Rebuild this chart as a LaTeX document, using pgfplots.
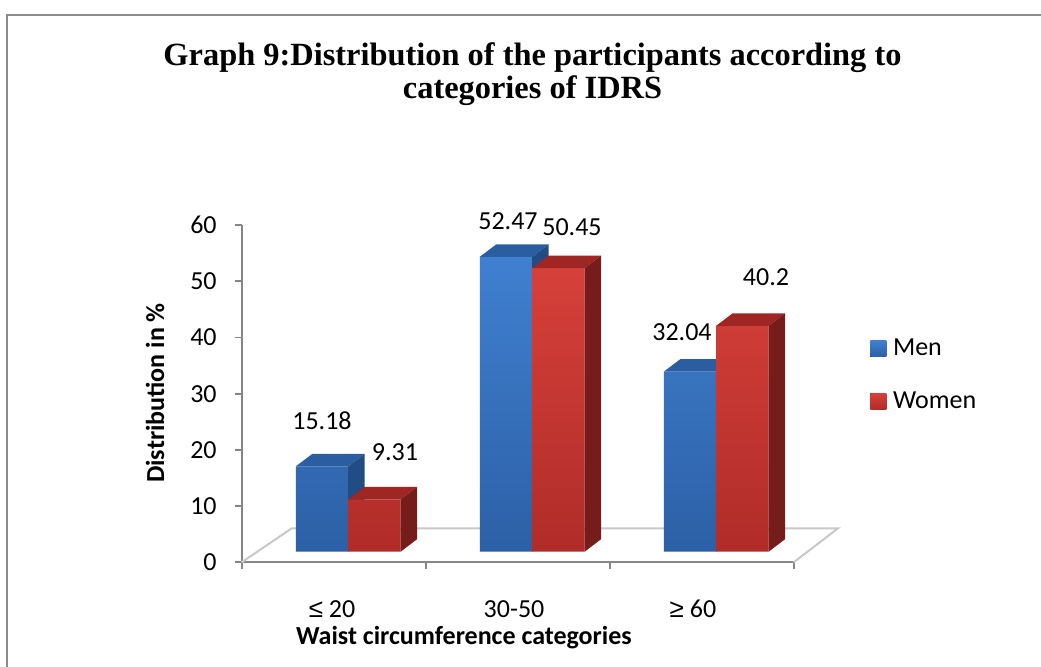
\documentclass[border=0pt]{standalone}
\usepackage{pgfplots}
\pgfplotsset{compat=1.18}
\usepackage{pgfplotstable}
\usepackage{fontspec}
\setmainfont{Carlito}
\newfontfamily\titlefont{Liberation Serif}
\newfontfamily\symfont{Liberation Sans}

\definecolor{framegray}{RGB}{140,140,140}
\definecolor{axisgray}{RGB}{134,134,134}
\definecolor{floorgray}{RGB}{200,200,200}
\definecolor{menhi}{RGB}{64,128,208}
\definecolor{menlo}{RGB}{44,96,166}
\definecolor{mentop}{RGB}{42,94,160}
\definecolor{menside}{RGB}{33,76,132}
\definecolor{womenhi}{RGB}{214,64,58}
\definecolor{womenlo}{RGB}{176,44,40}
\definecolor{womentop}{RGB}{160,38,36}
\definecolor{womenside}{RGB}{118,28,26}

% value, and where its label sits relative to the group centre / bar top (pt)
\pgfplotstableread{
x y dx dy
0 15.18 -13.1 22.7
1 52.47 -12.1 17.6
2 32.04 -17.1 19.8
}\mendata
\pgfplotstableread{
x y dx dy
0 9.31 23.4 23.7
1 50.45 19.9 20.3
2 40.2 24.9 24.5
}\womendata

\newcommand\txt{\fontsize{13}{15.6}\selectfont}

\begin{document}
\begin{tikzpicture}
\fill[white] (0,0) rectangle (520.5pt,333pt);
\useasboundingbox (0,0) rectangle (520.5pt,333pt);
\draw[framegray, line width=1pt] (3.5pt,-2pt) -- (3.5pt,325.5pt) -- (523pt,325.5pt);

\node[anchor=base, font=\titlefont\bfseries\fontsize{16.2}{19}\selectfont]
  at (266.25pt,300.35pt) {Graph 9:Distribution of the participants according to};
\node[anchor=base, font=\titlefont\bfseries\fontsize{16.2}{19}\selectfont]
  at (266.25pt,283.65pt) {categories of IDRS};

% back wall: value axis, category axis and floor
\begin{axis}[
  at={(120.85pt,51.85pt)}, anchor=south west,
  width=276pt, height=168.6pt, scale only axis,
  xmin=-0.5, xmax=2.5, ymin=0, ymax=60,
  clip=false,
  axis x line=bottom, axis y line=left,
  axis line style={axisgray, line width=0.9pt, -},
  tick align=outside,
  ytick={0,10,...,60},
  xtick={-0.0092,0.98,1.9527},
  xticklabels={{\symfont ≤}~20, 30-50, {\symfont ≥}~60},
  minor xtick={-0.5,0.5,1.5,2.5},
  major tick length=3.5pt, minor tick length=3.5pt,
  every tick/.style={axisgray, line width=0.9pt},
  major x tick style={draw=none},
  tick label style={font=\txt},
  yticklabel style={anchor=east, xshift=-5.5pt},
  xticklabel style={anchor=center, yshift=-20pt},
  /pgf/number format/assume math mode=true,
  xlabel={Waist circumference categories},
  ylabel={Distribution in \%},
  label style={font=\txt\bfseries},
  xlabel style={at={(axis description cs:0.4027,-0.2245)}, anchor=center},
  ylabel style={at={(axis description cs:-0.157,0.502)}, anchor=center, rotate=0},
]
\addplot[floorgray, line width=1pt, forget plot]
  coordinates {(-0.5,0) (-0.2283,6.05) (2.7408,6.05) (2.5,0)};
\end{axis}

% the bars, standing a third of the way into the floor
\begin{axis}[
  at={(128.1pt,57.15pt)}, anchor=south west,
  width=276pt, height=168.6pt, scale only axis,
  xmin=-0.5, xmax=2.5, ymin=0, ymax=60,
  hide axis, clip=false,
  /pgf/number format/assume math mode=true,
  legend style={draw=none, fill=none, at={(axis description cs:1.112,0.524)},
    anchor=west, row sep=16.6pt, column sep=3.3pt, font=\txt,
    inner sep=0pt, nodes={inner sep=0pt}},
  legend cell align=left,
  legend image code/.code={\fill[#1] (0pt,-4pt) rectangle (8pt,4pt);},
]
\addplot[ybar, bar width=0.2848, bar shift=-0.1424, draw=none,
  top color=menhi, bottom color=menlo,
  point meta=y, nodes near coords,
  visualization depends on={\thisrow{dx}\as\ldx},
  visualization depends on={\thisrow{dy}\as\ldy},
  every node near coord/.append style={anchor=center, text=black, font=\txt,
    xshift=\ldx pt, yshift=\ldy pt}]
  table[x=x, y=y] {\mendata};
\addlegendentry{Men}
% tops and right faces of the Men bars
\addplot[fill=mentop, draw=none, forget plot] coordinates {(-0.2848,15.18) (0,15.18) (0.0897,17.404) (-0.1951,17.404)};
\addplot[fill=menside, draw=none, forget plot] coordinates {(0,0) (0.0897,2.224) (0.0897,17.404) (0,15.18)};
\addplot[fill=mentop, draw=none, forget plot] coordinates {(0.7152,52.47) (1,52.47) (1.0897,54.694) (0.8049,54.694)};
\addplot[fill=menside, draw=none, forget plot] coordinates {(1,0) (1.0897,2.224) (1.0897,54.694) (1,52.47)};
\addplot[fill=mentop, draw=none, forget plot] coordinates {(1.7152,32.04) (2,32.04) (2.0897,34.264) (1.8049,34.264)};
\addplot[fill=menside, draw=none, forget plot] coordinates {(2,0) (2.0897,2.224) (2.0897,34.264) (2,32.04)};

\addplot[ybar, bar width=0.2848, bar shift=0.1424, draw=none,
  top color=womenhi, bottom color=womenlo,
  point meta=y, nodes near coords,
  visualization depends on={\thisrow{dx}\as\ldx},
  visualization depends on={\thisrow{dy}\as\ldy},
  every node near coord/.append style={anchor=center, text=black, font=\txt,
    xshift=\ldx pt, yshift=\ldy pt}]
  table[x=x, y=y] {\womendata};
\addlegendentry{Women}
% tops and right faces of the Women bars
\addplot[fill=womentop, draw=none, forget plot] coordinates {(0,9.31) (0.2848,9.31) (0.3745,11.534) (0.0897,11.534)};
\addplot[fill=womenside, draw=none, forget plot] coordinates {(0.2848,0) (0.3745,2.224) (0.3745,11.534) (0.2848,9.31)};
\addplot[fill=womentop, draw=none, forget plot] coordinates {(1,50.45) (1.2848,50.45) (1.3745,52.674) (1.0897,52.674)};
\addplot[fill=womenside, draw=none, forget plot] coordinates {(1.2848,0) (1.3745,2.224) (1.3745,52.674) (1.2848,50.45)};
\addplot[fill=womentop, draw=none, forget plot] coordinates {(2,40.2) (2.2848,40.2) (2.3745,42.424) (2.0897,42.424)};
\addplot[fill=womenside, draw=none, forget plot] coordinates {(2.2848,0) (2.3745,2.224) (2.3745,42.424) (2.2848,40.2)};
\end{axis}
\end{tikzpicture}
\end{document}
